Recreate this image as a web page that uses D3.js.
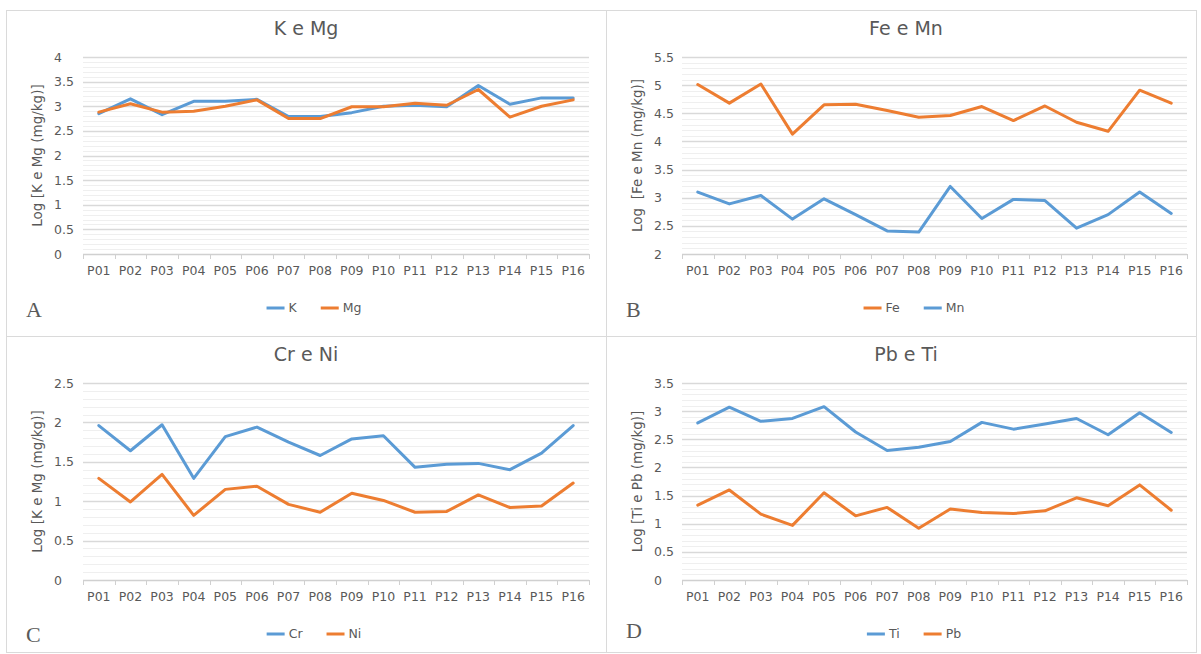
<!DOCTYPE html>
<html>
<head>
<meta charset="utf-8">
<script src="https://cdn.jsdelivr.net/npm/d3@7"></script>
<style>
  body { margin: 0; background: #fff; }
  text { font-family: "DejaVu Sans", sans-serif; fill: #595959; }
  .letter { font-family: "Liberation Serif", serif; font-size: 22px; fill: #5a5a5a; }
</style>
</head>
<body>
<svg id="chart" width="1201" height="654"></svg>
<script>
// categories and series values (log mg/kg)
const categories = ["P01","P02","P03","P04","P05","P06","P07","P08","P09","P10","P11","P12","P13","P14","P15","P16"];
const kValues  = [2.85,3.15,2.83,3.10,3.10,3.14,2.79,2.79,2.87,3.00,3.02,2.99,3.42,3.04,3.17,3.17];
const mgValues = [2.88,3.05,2.88,2.90,3.00,3.13,2.75,2.75,2.99,2.99,3.06,3.02,3.34,2.78,3.00,3.13];
const feValues = [5.01,4.68,5.02,4.13,4.65,4.66,4.55,4.43,4.46,4.62,4.37,4.63,4.34,4.18,4.91,4.68];
const mnValues = [3.10,2.89,3.04,2.62,2.98,2.70,2.41,2.39,3.20,2.63,2.97,2.95,2.46,2.70,3.10,2.72];
const crValues = [1.96,1.64,1.97,1.29,1.82,1.94,1.75,1.58,1.79,1.83,1.43,1.47,1.48,1.40,1.61,1.96];
const niValues = [1.29,0.99,1.34,0.82,1.15,1.19,0.96,0.86,1.10,1.01,0.86,0.87,1.08,0.92,0.94,1.23];
const tiValues = [2.79,3.07,2.82,2.87,3.08,2.63,2.30,2.36,2.46,2.80,2.68,2.77,2.87,2.58,2.97,2.62];
const pbValues = [1.33,1.60,1.17,0.97,1.55,1.14,1.29,0.92,1.26,1.20,1.18,1.23,1.46,1.32,1.69,1.24];

// y tick labels per panel
const ticksA = [0,0.5,1,1.5,2,2.5,3,3.5,4];
const ticksB = [2,2.5,3,3.5,4,4.5,5,5.5];
const ticksC = [0,0.5,1,1.5,2,2.5];
const ticksD = [0,0.5,1,1.5,2,2.5,3,3.5];

const BLUE = "#5b9bd5", ORANGE = "#ed7d31";

const panels = [
  { x: 6,   y: 10,  w: 600, h: 326, right: 583, title: "K e Mg",  yTitle: "Log [K e Mg (mg/kg)]",   letter: "A", letterY: 307, ticks: ticksA,
    series: [{ name: "K",  values: kValues,  color: BLUE }, { name: "Mg", values: mgValues, color: ORANGE }] },
  { x: 606, y: 10,  w: 590, h: 326, right: 581, title: "Fe e Mn", yTitle: "Log  [Fe e Mn (mg/kg)]", letter: "B", letterY: 307, ticks: ticksB,
    series: [{ name: "Fe", values: feValues, color: ORANGE }, { name: "Mn", values: mnValues, color: BLUE }] },
  { x: 6,   y: 336, w: 600, h: 316, right: 583, title: "Cr e Ni",  yTitle: "Log [K e Mg (mg/kg)]",   letter: "C", letterY: 306, ticks: ticksC,
    series: [{ name: "Cr", values: crValues, color: BLUE }, { name: "Ni", values: niValues, color: ORANGE }] },
  { x: 606, y: 336, w: 590, h: 316, right: 581, title: "Pb e Ti", yTitle: "Log [Ti e Pb (mg/kg)]",  letter: "D", letterY: 302, ticks: ticksD,
    series: [{ name: "Ti", values: tiValues, color: BLUE }, { name: "Pb", values: pbValues, color: ORANGE }] }
];

const svg = d3.select("#chart");
const plotTop = 47, plotBottom = 244;

function drawPanel(p) {
  const g = svg.append("g").attr("transform", `translate(${p.x},${p.y})`);
  g.append("rect").attr("x", 0.5).attr("y", 0.5).attr("width", p.w).attr("height", p.h)
    .attr("fill", "none").attr("stroke", "#dadada");

  const left = p.x < 600 ? 77 : 76;
  const yMin = d3.min(p.ticks), yMax = d3.max(p.ticks);
  const x = d3.scaleBand().domain(categories).range([left, p.right]).padding(0);
  const y = d3.scaleLinear().domain([yMin, yMax]).range([plotBottom, plotTop]);

  // minor gridlines every 0.1
  const minor = d3.range(Math.round(yMin * 10), Math.round(yMax * 10) + 1).map(d => d / 10);
  g.append("g").selectAll("line").data(minor).join("line")
    .attr("x1", left).attr("x2", p.right)
    .attr("y1", d => Math.round(y(d)) + 0.5).attr("y2", d => Math.round(y(d)) + 0.5)
    .attr("stroke", "#efefef").attr("stroke-width", 1);
  // major gridlines
  g.append("g").selectAll("line").data(p.ticks.slice(1)).join("line")
    .attr("x1", left).attr("x2", p.right)
    .attr("y1", d => Math.round(y(d)) + 0.5).attr("y2", d => Math.round(y(d)) + 0.5)
    .attr("stroke", "#d9d9d9").attr("stroke-width", 1.3);

  // y axis labels
  const yAxis = d3.axisLeft(y).tickValues(p.ticks).tickSize(0).tickFormat(d3.format("~g"));
  const ya = g.append("g").attr("transform", `translate(${left},0)`).call(yAxis);
  ya.select(".domain").remove();
  ya.selectAll("text").attr("x", 48 - left).attr("text-anchor", "start")
    .style("font-size", "12.5px").style("font-family", "DejaVu Sans").attr("fill", "#595959");

  // x axis with boundary ticks
  const xAxis = d3.axisBottom(x).tickSize(0).tickPadding(12);
  const xa = g.append("g").attr("transform", `translate(0,${plotBottom})`).call(xAxis);
  xa.select(".domain").remove();
  xa.selectAll("text").style("font-size", "12.5px").style("font-family", "DejaVu Sans").attr("fill", "#595959");
  g.append("line").attr("x1", left).attr("x2", p.right)
    .attr("y1", plotBottom + 0.5).attr("y2", plotBottom + 0.5).attr("stroke", "#d0d0d0").attr("stroke-width", 1.3);
  const bounds = categories.map(c => x(c)).concat([p.right]);
  g.append("g").selectAll("line").data(bounds).join("line")
    .attr("x1", d => Math.round(d) + 0.5).attr("x2", d => Math.round(d) + 0.5)
    .attr("y1", plotBottom).attr("y2", plotBottom + 5)
    .attr("stroke", "#d0d0d0").attr("stroke-width", 1);

  // lines
  const line = d3.line().x((d, i) => x(categories[i]) + x.bandwidth() / 2).y(d => y(d));
  p.series.forEach(s => {
    g.append("path").datum(s.values).attr("d", line)
      .attr("fill", "none").attr("stroke", s.color).attr("stroke-width", 3)
      .attr("stroke-linejoin", "round").attr("stroke-linecap", "round");
  });

  // title
  g.append("text").attr("x", 300).attr("y", 25).attr("text-anchor", "middle")
    .style("font-size", "19px").text(p.title);

  // y title
  g.append("text").attr("transform", `translate(31,${(plotTop + plotBottom) / 2}) rotate(-90)`)
    .attr("text-anchor", "middle").attr("dy", "0.35em").style("font-size", "13.5px")
    .style("white-space", "pre").text(p.yTitle);

  // legend
  const lg = g.append("g");
  let cx = 0;
  p.series.forEach((s, i) => {
    const item = lg.append("g").attr("transform", `translate(${cx},0)`);
    item.append("line").attr("x1", 0).attr("x2", 18).attr("y1", 0).attr("y2", 0)
      .attr("stroke", s.color).attr("stroke-width", 3);
    const t = item.append("text").attr("x", 22).attr("y", 0).attr("dy", "0.35em")
      .style("font-size", "12.5px").text(s.name);
    cx += 22 + t.node().getComputedTextLength() + 24;
  });
  const lw = cx - 24;
  lg.attr("transform", `translate(${308 - lw / 2},${p.y < 100 ? 298 : 298})`);

  // panel letter
  g.append("text").attr("class", "letter").attr("x", 20).attr("y", p.letterY).text(p.letter);
}

panels.forEach(drawPanel);
</script>
</body>
</html>
